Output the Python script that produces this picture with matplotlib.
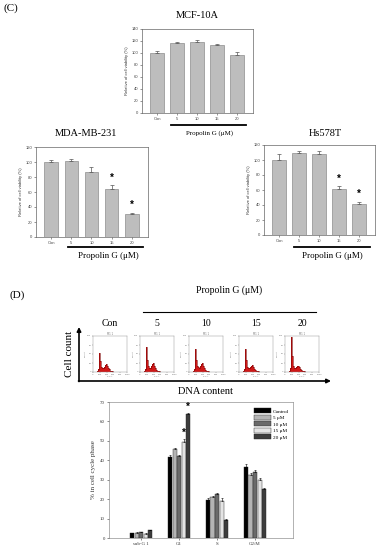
"""Propolin G viability bars, cell-cycle histograms and phase distribution."""
import matplotlib
matplotlib.use("Agg")
import matplotlib.pyplot as plt
import numpy as np

W, H = 377, 550

# (C) cell viability
DOSES = ["Con", "5", "10", "15", "20"]
MCF_VAL = [100, 116, 119, 113, 97]
MCF_ERR = [3, 3, 3, 2, 4]
MDA_VAL = [100, 101, 87, 64, 31]
MDA_ERR = [3, 3, 7, 5, 1]
MDA_STAR = [False, False, False, True, True]
HS_VAL = [100, 109, 108, 62, 42]
HS_ERR = [8, 3, 4, 3, 2]
HS_STAR = [False, False, False, True, True]

# (D) flow cytometry histograms (channel, relative count)
CHANNELS = [100, 125, 150, 175, 200, 225, 250, 275, 300, 325, 350, 375,
            400, 425, 450, 475, 500, 525, 550, 575, 600, 625]
HIST_LABELS = ["Con", "5", "10", "15", "20"]
HIST_COUNTS = [
    [0, 2, 8, 34, 54, 30, 15, 12, 11, 12, 15, 20, 23, 16, 10, 7, 5, 4, 3, 2, 1, 0],
    [0, 2, 9, 40, 69, 34, 16, 12, 11, 12, 16, 21, 24, 16, 10, 6, 5, 4, 3, 2, 1, 0],
    [0, 2, 9, 38, 63, 33, 16, 13, 12, 13, 17, 23, 26, 17, 10, 6, 5, 4, 3, 2, 1, 0],
    [0, 2, 9, 38, 63, 32, 15, 12, 11, 12, 14, 18, 20, 14, 9, 6, 4, 3, 2, 2, 1, 0],
    [0, 3, 12, 55, 97, 44, 17, 11, 10, 11, 13, 16, 18, 13, 8, 5, 4, 3, 2, 2, 1, 0],
]

# (D) cell-cycle phase distribution
PHASES = ["sub-G 1", "G1", "S", "G2/M"]
GROUPS = ["Control", "5 \u03bcM", "10 \u03bcM", "15 \u03bcM", "20 \u03bcM"]
PHASE_VAL = [
    [2.4, 41.5, 19.5, 36.7],
    [2.8, 46.0, 21.0, 32.6],
    [3.0, 42.0, 22.6, 33.8],
    [2.3, 49.5, 19.2, 30.0],
    [4.0, 63.8, 9.4, 25.0],
]
PHASE_ERR = [
    [0.3, 1.2, 1.2, 1.6],
    [0.3, 0.5, 0.8, 0.6],
    [0.3, 0.8, 0.6, 1.2],
    [0.3, 1.4, 1.5, 0.8],
    [0.3, 0.6, 0.3, 0.6],
]
PHASE_STAR = [(3, 1), (4, 1)]
GROUP_COLORS = ["#000000", "#b4b4b4", "#6a6a6a", "#e4e4e4", "#3c3c3c"]

SERIF = "Liberation Serif"
SANS = "Liberation Sans"


def rect(l, t, r, b):
    """Pixel box -> figure fraction rect."""
    return [l / W, 1 - b / H, (r - l) / W, (b - t) / H]


def viability(fig, box, vals, errs, ymax, stars=None):
    ax = fig.add_axes(rect(*box))
    x = np.arange(len(vals))
    ax.bar(x, vals, width=0.66, color="#bdbdbd", edgecolor="#7a7a7a", lw=0.4)
    ax.errorbar(x, vals, yerr=[np.zeros(len(errs)), errs], fmt="none",
                ecolor="#555555", elinewidth=0.5, capsize=1.2, capthick=0.5)
    if stars:
        for xi, v, e, s in zip(x, vals, errs, stars):
            if s:
                ax.text(xi, v + e + ymax * 0.03, "*", ha="center", va="bottom",
                        fontsize=7, family=SANS, fontweight="bold")
    ax.set_xlim(-0.75, 4.8)
    ax.set_ylim(0, ymax)
    ax.set_yticks(np.arange(0, ymax + 1, 20))
    ax.set_xticks(x)
    ax.set_xticklabels(DOSES)
    ax.tick_params(labelsize=3, length=1.2, width=0.4, pad=1.5, colors="#444444")
    ax.set_ylabel("Relative of cell viability (%)", fontsize=3, family=SANS,
                  labelpad=2, color="#333333")
    for lab in ax.get_xticklabels() + ax.get_yticklabels():
        lab.set_family(SANS)
    for sp in ax.spines.values():
        sp.set_linewidth(0.5)
        sp.set_color("#666666")
    return ax


def main():
    fig = plt.figure(figsize=(W / 100, H / 100), dpi=100)

    # overlay for free-standing text and lines, in pixel units
    ov = fig.add_axes([0, 0, 1, 1])
    ov.set_xlim(0, W)
    ov.set_ylim(H, 0)
    ov.axis("off")

    # ---- (C)
    ov.text(3, 8, "(C)", fontsize=8, family=SERIF, va="center")
    viability(fig, (142, 29, 253, 113), MCF_VAL, MCF_ERR, 140)
    ov.text(197, 15, "MCF-10A", fontsize=7.5, family=SERIF, ha="center", va="center")
    ov.plot([171, 246], [125, 125], color="black", lw=1.3)
    ov.text(210, 133, "Propolin G (\u03bcM)", fontsize=5, family=SERIF,
            ha="center", va="center")

    viability(fig, (36, 147, 148, 237), MDA_VAL, MDA_ERR, 120, MDA_STAR)
    ov.text(86, 134, "MDA-MB-231", fontsize=7.5, family=SERIF, ha="center", va="center")
    ov.plot([68, 143], [247, 247], color="black", lw=1.3)
    ov.text(108, 256, "Propolin G (\u03bcM)", fontsize=6.5, family=SERIF,
            ha="center", va="center")

    viability(fig, (264, 145, 375, 235), HS_VAL, HS_ERR, 120, HS_STAR)
    ov.text(325, 134, "Hs578T", fontsize=7.5, family=SERIF, ha="center", va="center")
    ov.plot([294, 370], [247, 247], color="black", lw=1.3)
    ov.text(332, 256, "Propolin G (\u03bcM)", fontsize=6.5, family=SERIF,
            ha="center", va="center")

    # ---- (D) histograms
    ov.text(9, 295, "(D)", fontsize=8, family=SERIF, va="center")
    ov.text(229, 290, "Propolin G (\u03bcM)", fontsize=7, family=SERIF,
            ha="center", va="center")
    ov.plot([143, 316], [312, 312], color="black", lw=0.8)
    centers = [110, 157, 206, 256, 302]
    for cx, lab, counts in zip(centers, HIST_LABELS, HIST_COUNTS):
        ov.text(cx, 323, lab, fontsize=7, family=SERIF, ha="center", va="center")
        hx = fig.add_axes(rect(cx - 17, 336, cx + 17, 372))
        hx.fill_between(CHANNELS, counts, step="mid", color="#d01818", lw=0)
        hx.step(CHANNELS, counts, where="mid", color="#7a0000", lw=0.4)
        hx.set_xlim(0, 1000)
        hx.set_ylim(0, 100)
        hx.set_xticks([0, 200, 400, 600, 800, 1000])
        hx.set_yticks([0, 25, 50, 75, 100])
        hx.tick_params(labelsize=1.6, length=0.8, width=0.3, pad=0.5,
                       colors="#777777")
        hx.set_title("M1 1", fontsize=1.8, pad=1, color="#777777")
        hx.set_xlabel("FL2-A", fontsize=1.6, labelpad=0.5, color="#777777")
        hx.set_ylabel("Count", fontsize=1.6, labelpad=0.5, color="#777777")
        for sp in hx.spines.values():
            sp.set_linewidth(0.3)
            sp.set_color("#888888")

    ov.annotate("", xy=(79, 327), xytext=(79, 381.5),
                arrowprops=dict(arrowstyle="-|>", lw=1.2, color="black",
                                mutation_scale=6, shrinkA=0, shrinkB=0))
    ov.annotate("", xy=(331, 381), xytext=(78.5, 381),
                arrowprops=dict(arrowstyle="-|>", lw=1.2, color="black",
                                mutation_scale=6, shrinkA=0, shrinkB=0))
    ov.text(70, 354, "Cell count", fontsize=8, family=SERIF, rotation=90,
            ha="center", va="center")
    ov.text(205, 391, "DNA content", fontsize=7.5, family=SERIF,
            ha="center", va="center")

    # ---- (D) phase distribution
    ax = fig.add_axes(rect(109, 402, 293, 538))
    x = np.arange(1, len(PHASES) + 1)
    bw = 0.11
    for i, (name, vals, errs, col) in enumerate(
            zip(GROUPS, PHASE_VAL, PHASE_ERR, GROUP_COLORS)):
        xs = x + (i - 2) * (bw + 0.01)
        ax.bar(xs, vals, width=bw, color=col, edgecolor="#222222", lw=0.3,
               label=name)
        ax.errorbar(xs, vals, yerr=[np.zeros(len(errs)), errs], fmt="none",
                    ecolor="black", elinewidth=0.4, capsize=1.0, capthick=0.4)
    for gi, pi in PHASE_STAR:
        xs = x[pi] + (gi - 2) * (bw + 0.01)
        top = PHASE_VAL[gi][pi] + PHASE_ERR[gi][pi]
        ax.text(xs, top + 0.5, "*", ha="center", va="bottom", fontsize=7,
                family=SANS, fontweight="bold")
    ax.set_xlim(0.15, 5.0)
    ax.set_ylim(0, 70)
    ax.set_yticks(np.arange(0, 71, 10))
    ax.set_xticks(x)
    ax.set_xticklabels(PHASES)
    ax.tick_params(labelsize=3.5, length=1.5, width=0.4, pad=1.5,
                   colors="#333333")
    for lab in ax.get_xticklabels() + ax.get_yticklabels():
        lab.set_family(SERIF)
    ax.set_ylabel("% in cell cycle phase", fontsize=5, family=SERIF,
                  labelpad=3, color="#333333")
    for sp in ax.spines.values():
        sp.set_linewidth(0.4)
        sp.set_color("#777777")
    ax.legend(loc="upper right", bbox_to_anchor=(1.0, 0.98), frameon=False,
              prop={"family": SERIF, "size": 3.8}, handlelength=3.2,
              handleheight=1.0, labelspacing=0.25, handletextpad=0.5,
              borderaxespad=0.3)

    fig.savefig("out.png", dpi=100)


if __name__ == "__main__":
    main()
